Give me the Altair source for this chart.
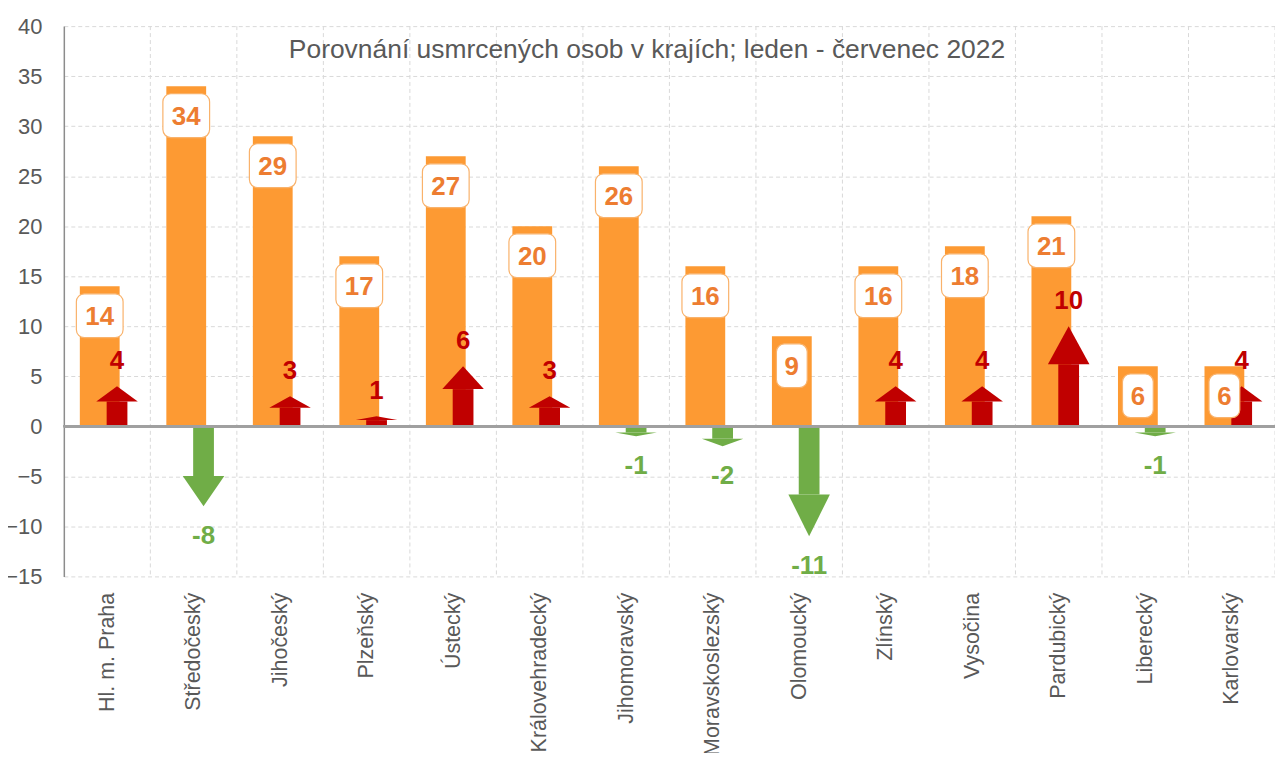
import json
import altair as alt
import pandas as pd

# ---------------- data ----------------
regions = ["Hl. m. Praha", "Středočeský", "Jihočeský", "Plzeňský", "Ústecký",
           "Královehradecký", "Jihomoravský", "Moravskoslezský", "Olomoucký",
           "Zlínský", "Vysočina", "Pardubický", "Liberecký", "Karlovarský"]
deaths = [14, 34, 29, 17, 27, 20, 26, 16, 9, 16, 18, 21, 6, 6]
change = [4, -8, 3, 1, 6, 3, -1, -2, -11, 4, 4, 10, -1, 4]
title_text = "Porovnání usmrcených osob v krajích; leden - červenec 2022"
y_ticks = [-15, -10, -5, 0, 5, 10, 15, 20, 25, 30, 35, 40]

# ---------------- styling / geometry ----------------
ORANGE = "#FD9A33"
ORANGE_TXT = "#ED7D31"
BOX_STROKE = "#F9B26B"
RED = "#C00000"
GREEN = "#70AD47"
GRID = "#D9D9D9"
TXT = "#595959"
SANS = "Liberation Sans, Arial, sans-serif"

N = len(regions)
W, H = 1215, 552
BAR_L, BAR_R = 0.185, 0.645
ARR_C = 0.615
SHAFT_HW = 0.12
HEAD_HW = 0.24
HEAD_FRAC = 0.38

bars = pd.DataFrame({"i": list(range(N)), "region": regions, "v": deaths})
bars["x"] = bars["i"] + BAR_L
bars["x2"] = bars["i"] + BAR_R
bars["xc"] = bars["i"] + (BAR_L + BAR_R) / 2
hw = [0.27 if len(str(v)) > 1 else 0.178 for v in deaths]
bars["bx"] = bars["xc"] - hw
bars["bx2"] = bars["xc"] + hw
bars["by"] = bars["v"] - 2.95 - 2.19
bars["by2"] = bars["v"] - 2.95 + 2.19
bars["ty"] = bars["v"] - 3.88
bars["label"] = bars["v"].astype(str)

ch = pd.DataFrame({"i": list(range(N)), "d": change})
ch["xc"] = ch["i"] + ARR_C
ch["sx"] = ch["xc"] - SHAFT_HW
ch["sx2"] = ch["xc"] + SHAFT_HW
ch["base"] = ch["d"] * (1 - HEAD_FRAC)
ch["dir"] = ["up" if d > 0 else "down" for d in change]
ch["ly"] = [d + 1.7 if d > 0 else d - 3.75 for d in change]
ch["label"] = ch["d"].astype(str)

head_rows = []
for _, r in ch.iterrows():
    for x, y in [(r.xc - HEAD_HW, r.base), (r.xc, r.d), (r.xc + HEAD_HW, r.base)]:
        head_rows.append({"arrow": int(r.i), "hx": x, "hy": y, "hy2": r.base, "dir": r.dir})
heads = pd.DataFrame(head_rows)

grid_df = pd.DataFrame({"b": list(range(1, N + 1))})
title_df = pd.DataFrame({"t": [title_text]})

# ---------------- scales / axes ----------------
xscale = alt.Scale(domain=[0, N], nice=False, zero=False)
yscale = alt.Scale(domain=[-15, 40], nice=False, zero=False)
label_expr = "%s[floor(datum.value)]" % json.dumps(regions, ensure_ascii=False)
xaxis = alt.Axis(values=[i + 0.5 for i in range(N)], labelExpr=label_expr, grid=False,
                 domain=False, ticks=False, labelAngle=270, labelAlign="right",
                 labelBaseline="middle", labelPadding=16, labelFont=SANS,
                 labelFontSize=21.5, labelColor=TXT, labelOverlap=False,
                 labelBound=False, labelFlush=False, labelLimit=0, title=None)
yaxis = alt.Axis(values=y_ticks, grid=True, gridColor=GRID, gridDash=[4, 3],
                 gridWidth=1, domain=True, domainColor="#8C8C8C", domainWidth=1.5,
                 ticks=False, labelPadding=22, labelFont=SANS, labelFontSize=22,
                 labelColor=TXT, title=None, labelFlush=False, labelBound=False)
dcolor = alt.Color("dir:N", scale=alt.Scale(domain=["up", "down"], range=[RED, GREEN]),
                   legend=None)

vgrid = alt.Chart(grid_df).mark_rule(color=GRID, strokeDash=[4, 3], strokeWidth=1).encode(
    x=alt.X("b:Q", scale=xscale, axis=xaxis))

bar_layer = alt.Chart(bars).mark_rect(color=ORANGE).encode(
    x=alt.X("x:Q", scale=xscale, axis=xaxis), x2="x2",
    y=alt.Y("v:Q", scale=yscale, axis=yaxis), y2=alt.datum(0))

shafts = alt.Chart(ch).mark_rect().encode(
    x=alt.X("sx:Q", scale=xscale, axis=xaxis), x2="sx2",
    y=alt.Y("base:Q", scale=yscale, axis=yaxis), y2=alt.datum(0), color=dcolor)

head_layer = alt.Chart(heads).mark_area(orient="vertical", interpolate="linear").encode(
    x=alt.X("hx:Q", scale=xscale, axis=xaxis),
    y=alt.Y("hy:Q", scale=yscale, axis=yaxis), y2="hy2",
    detail="arrow:N", color=dcolor)

zero = alt.Chart(grid_df).mark_rule(color="#A0A0A0", strokeWidth=2).encode(
    y=alt.datum(0, scale=yscale, axis=yaxis))

boxes = alt.Chart(bars).mark_rect(fill="white", stroke=BOX_STROKE, strokeWidth=1.2,
                                  cornerRadius=8).encode(
    x=alt.X("bx:Q", scale=xscale, axis=xaxis), x2="bx2",
    y=alt.Y("by:Q", scale=yscale, axis=yaxis), y2="by2")

box_text = alt.Chart(bars).mark_text(font=SANS, fontSize=26, fontWeight="bold",
                                     color=ORANGE_TXT, baseline="alphabetic",
                                     align="center").encode(
    x=alt.X("xc:Q", scale=xscale, axis=xaxis),
    y=alt.Y("ty:Q", scale=yscale, axis=yaxis), text="label:N")

ch_text = alt.Chart(ch).mark_text(font=SANS, fontSize=26, fontWeight="bold",
                                  baseline="alphabetic", align="center").encode(
    x=alt.X("xc:Q", scale=xscale, axis=xaxis),
    y=alt.Y("ly:Q", scale=yscale, axis=yaxis), text="label:N", color=dcolor)

title_layer = alt.Chart(title_df).mark_text(font=SANS, fontSize=26.5, color=TXT,
                                            baseline="alphabetic", align="center").encode(
    x=alt.value(585), y=alt.value(32), text="t:N")

chart = alt.layer(vgrid, bar_layer, shafts, head_layer, zero, boxes, box_text,
                  ch_text, title_layer).properties(
    width=W, height=H,
    autosize=alt.AutoSizeParams(type="none"),
    padding={"left": 56, "top": 17, "right": 0, "bottom": 176},
    background="white",
).configure_view(stroke=None)

chart.save("out.html", embed_options={"renderer": "svg", "actions": False})
